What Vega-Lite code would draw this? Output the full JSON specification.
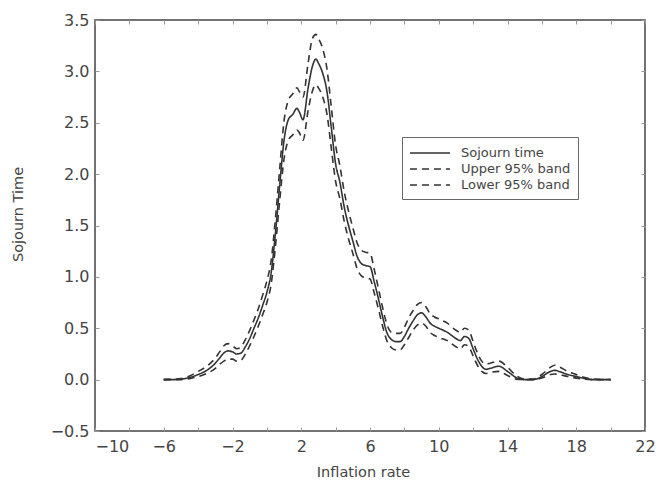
{
  "$schema": "https://vega.github.io/schema/vega-lite/v6.json",
  "width": 550,
  "height": 411,
  "autosize": {"type": "none"},
  "padding": {"left": 95, "top": 20, "right": 14, "bottom": 56},
  "background": "white",
  "config": {
    "view": {"stroke": "#444", "strokeWidth": 1.5},
    "font": "DejaVu Sans",
    "axis": {
      "grid": false,
      "domain": false,
      "tickColor": "#999",
      "tickSize": -4,
      "tickWidth": 1,
      "labelFont": "DejaVu Sans",
      "labelFontSize": 16,
      "labelColor": "#444",
      "titleFont": "DejaVu Sans",
      "titleFontSize": 14.5,
      "titleFontWeight": "normal",
      "titleColor": "#444"
    },
    "legend": {
      "orient": "none",
      "legendX": 307,
      "legendY": 117,
      "fillColor": "white",
      "strokeColor": "#666",
      "padding": 7,
      "symbolType": "M-1,0H4",
      "symbolSize": 256,
      "symbolStrokeWidth": 1.6,
      "symbolStrokeColor": "#333",
      "symbolFillColor": "transparent",
      "labelFont": "DejaVu Sans",
      "labelFontSize": 13,
      "labelColor": "#444",
      "labelOffset": 34,
      "rowPadding": 0
    }
  },
  "data": {
    "values": [
      {"x": -6, "sojourn": 0, "upper": 0, "lower": 0},
      {"x": -5.5, "sojourn": 0, "upper": 0.005, "lower": 0},
      {"x": -5, "sojourn": 0.005, "upper": 0.01, "lower": 0},
      {"x": -4.5, "sojourn": 0.02, "upper": 0.035, "lower": 0.01},
      {"x": -4, "sojourn": 0.05, "upper": 0.08, "lower": 0.03},
      {"x": -3.5, "sojourn": 0.09, "upper": 0.13, "lower": 0.06},
      {"x": -3, "sojourn": 0.16, "upper": 0.21, "lower": 0.11},
      {"x": -2.75, "sojourn": 0.21, "upper": 0.27, "lower": 0.15},
      {"x": -2.5, "sojourn": 0.26, "upper": 0.33, "lower": 0.18},
      {"x": -2.25, "sojourn": 0.28, "upper": 0.35, "lower": 0.2},
      {"x": -2, "sojourn": 0.27, "upper": 0.33, "lower": 0.2},
      {"x": -1.75, "sojourn": 0.25, "upper": 0.3, "lower": 0.18},
      {"x": -1.5, "sojourn": 0.26, "upper": 0.32, "lower": 0.19},
      {"x": -1.25, "sojourn": 0.32, "upper": 0.39, "lower": 0.25},
      {"x": -1, "sojourn": 0.4, "upper": 0.48, "lower": 0.33},
      {"x": -0.75, "sojourn": 0.5, "upper": 0.58, "lower": 0.42},
      {"x": -0.5, "sojourn": 0.6, "upper": 0.69, "lower": 0.52},
      {"x": -0.25, "sojourn": 0.72, "upper": 0.82, "lower": 0.63},
      {"x": 0, "sojourn": 0.85, "upper": 0.96, "lower": 0.75},
      {"x": 0.25, "sojourn": 1.04, "upper": 1.16, "lower": 0.93},
      {"x": 0.5, "sojourn": 1.43, "upper": 1.57, "lower": 1.3},
      {"x": 0.75, "sojourn": 1.9, "upper": 2.06, "lower": 1.75},
      {"x": 1, "sojourn": 2.33, "upper": 2.52, "lower": 2.15},
      {"x": 1.25, "sojourn": 2.53, "upper": 2.72, "lower": 2.33},
      {"x": 1.5, "sojourn": 2.58, "upper": 2.78, "lower": 2.38},
      {"x": 1.75, "sojourn": 2.64, "upper": 2.84, "lower": 2.43},
      {"x": 1.9, "sojourn": 2.6, "upper": 2.8, "lower": 2.4},
      {"x": 2.1, "sojourn": 2.53, "upper": 2.75, "lower": 2.33},
      {"x": 2.4, "sojourn": 2.84, "upper": 3.08, "lower": 2.62},
      {"x": 2.65, "sojourn": 3.05, "upper": 3.32, "lower": 2.81},
      {"x": 2.85, "sojourn": 3.12, "upper": 3.36, "lower": 2.87},
      {"x": 3, "sojourn": 3.08, "upper": 3.32, "lower": 2.84},
      {"x": 3.25, "sojourn": 2.98, "upper": 3.22, "lower": 2.75},
      {"x": 3.5, "sojourn": 2.8, "upper": 3.02, "lower": 2.58},
      {"x": 3.75, "sojourn": 2.45, "upper": 2.65, "lower": 2.25},
      {"x": 4, "sojourn": 2.1, "upper": 2.28, "lower": 1.93},
      {"x": 4.25, "sojourn": 1.92, "upper": 2.08, "lower": 1.76},
      {"x": 4.5, "sojourn": 1.68, "upper": 1.83, "lower": 1.54},
      {"x": 4.75, "sojourn": 1.5, "upper": 1.64, "lower": 1.37},
      {"x": 5, "sojourn": 1.35, "upper": 1.48, "lower": 1.23},
      {"x": 5.25, "sojourn": 1.2, "upper": 1.33, "lower": 1.08},
      {"x": 5.5, "sojourn": 1.13, "upper": 1.26, "lower": 1.01},
      {"x": 5.75, "sojourn": 1.11, "upper": 1.24, "lower": 0.99},
      {"x": 6, "sojourn": 1.1, "upper": 1.23, "lower": 0.98},
      {"x": 6.25, "sojourn": 0.95, "upper": 1.07, "lower": 0.84},
      {"x": 6.5, "sojourn": 0.78, "upper": 0.88, "lower": 0.68},
      {"x": 6.75, "sojourn": 0.6, "upper": 0.69, "lower": 0.51},
      {"x": 7, "sojourn": 0.45, "upper": 0.53, "lower": 0.37},
      {"x": 7.25, "sojourn": 0.39, "upper": 0.46, "lower": 0.31},
      {"x": 7.5, "sojourn": 0.37, "upper": 0.45, "lower": 0.29},
      {"x": 7.75, "sojourn": 0.37, "upper": 0.45, "lower": 0.29},
      {"x": 8, "sojourn": 0.42, "upper": 0.51, "lower": 0.34},
      {"x": 8.25, "sojourn": 0.5, "upper": 0.6, "lower": 0.41},
      {"x": 8.5, "sojourn": 0.57, "upper": 0.67, "lower": 0.48},
      {"x": 8.75, "sojourn": 0.63, "upper": 0.73, "lower": 0.53},
      {"x": 9, "sojourn": 0.65, "upper": 0.75, "lower": 0.55},
      {"x": 9.25, "sojourn": 0.61, "upper": 0.71, "lower": 0.52},
      {"x": 9.5, "sojourn": 0.55, "upper": 0.64, "lower": 0.46},
      {"x": 9.75, "sojourn": 0.52, "upper": 0.61, "lower": 0.43},
      {"x": 10, "sojourn": 0.5, "upper": 0.59, "lower": 0.41},
      {"x": 10.5, "sojourn": 0.46, "upper": 0.55, "lower": 0.38},
      {"x": 11, "sojourn": 0.4, "upper": 0.48, "lower": 0.32},
      {"x": 11.25, "sojourn": 0.38, "upper": 0.46, "lower": 0.3},
      {"x": 11.5, "sojourn": 0.42, "upper": 0.5, "lower": 0.34},
      {"x": 11.75, "sojourn": 0.4, "upper": 0.48, "lower": 0.32},
      {"x": 12, "sojourn": 0.3, "upper": 0.37, "lower": 0.23},
      {"x": 12.25, "sojourn": 0.2, "upper": 0.26, "lower": 0.14},
      {"x": 12.5, "sojourn": 0.13, "upper": 0.18, "lower": 0.08},
      {"x": 12.75, "sojourn": 0.1, "upper": 0.15, "lower": 0.06},
      {"x": 13, "sojourn": 0.11, "upper": 0.16, "lower": 0.07},
      {"x": 13.5, "sojourn": 0.13, "upper": 0.18, "lower": 0.08},
      {"x": 14, "sojourn": 0.08, "upper": 0.12, "lower": 0.04},
      {"x": 14.5, "sojourn": 0.02, "upper": 0.04, "lower": 0.005},
      {"x": 15, "sojourn": 0, "upper": 0.005, "lower": 0},
      {"x": 15.5, "sojourn": 0, "upper": 0.005, "lower": 0},
      {"x": 16, "sojourn": 0.03, "upper": 0.05, "lower": 0.015},
      {"x": 16.5, "sojourn": 0.08, "upper": 0.12, "lower": 0.05},
      {"x": 16.75, "sojourn": 0.09, "upper": 0.14, "lower": 0.055},
      {"x": 17, "sojourn": 0.08, "upper": 0.125, "lower": 0.05},
      {"x": 17.5, "sojourn": 0.05, "upper": 0.08, "lower": 0.03},
      {"x": 18, "sojourn": 0.03, "upper": 0.05, "lower": 0.015},
      {"x": 18.5, "sojourn": 0.01, "upper": 0.02, "lower": 0.005},
      {"x": 19, "sojourn": 0, "upper": 0.005, "lower": 0},
      {"x": 20, "sojourn": 0, "upper": 0, "lower": 0}
    ]
  },
  "transform": [
    {"fold": ["sojourn", "upper", "lower"], "as": ["series", "value"]}
  ],
  "layer": [
    {
      "mark": {"type": "line", "color": "#333", "strokeWidth": 1.6, "interpolate": "monotone"},
      "encoding": {
        "x": {
          "field": "x",
          "type": "quantitative",
          "scale": {"domain": [-10, 22], "nice": false, "zero": false},
          "axis": {
            "orient": "bottom",
            "values": [-10, -8, -6, -4, -2, 0, 2, 4, 6, 8, 10, 12, 14, 16, 18, 20, 22],
            "labelExpr": "(datum.value + 10) % 4 == 0 ? datum.label : ''",
            "labelAlign": {"condition": {"test": "datum.value == -10", "value": "left"}, "value": "center"},
            "labelPadding": 11,
            "title": "Inflation rate",
            "titleX": 268,
            "titleY": 45,
            "titleBaseline": "alphabetic"
          }
        },
        "y": {
          "field": "value",
          "type": "quantitative",
          "scale": {"domain": [-0.5, 3.5], "nice": false, "zero": false},
          "axis": {
            "orient": "left",
            "values": [-0.5, 0, 0.5, 1, 1.5, 2, 2.5, 3, 3.5],
            "format": ".1f",
            "labelPadding": 10,
            "title": "Sojourn Time",
            "titleX": -73,
            "titleY": 194,
            "titleBaseline": "alphabetic"
          }
        },
        "strokeDash": {
          "field": "series",
          "type": "nominal",
          "scale": {"domain": ["sojourn", "upper", "lower"], "range": [[1, 0], [7, 5], [7, 5]]},
          "legend": {
            "title": null,
            "labelExpr": "{'sojourn': 'Sojourn time', 'upper': 'Upper 95% band', 'lower': 'Lower 95% band'}[datum.label]"
          }
        }
      }
    },
    {
      "mark": {"type": "line", "strokeOpacity": 0},
      "encoding": {
        "x": {
          "field": "x",
          "type": "quantitative",
          "axis": {
            "orient": "top",
            "labels": false,
            "title": null,
            "values": [-10, -8, -6, -4, -2, 0, 2, 4, 6, 8, 10, 12, 14, 16, 18, 20, 22]
          }
        },
        "y": {
          "field": "value",
          "type": "quantitative",
          "axis": {
            "orient": "right",
            "labels": false,
            "title": null,
            "values": [-0.5, 0, 0.5, 1, 1.5, 2, 2.5, 3, 3.5]
          }
        },
        "detail": {"field": "series"}
      }
    }
  ],
  "resolve": {"axis": {"x": "independent", "y": "independent"}}
}
